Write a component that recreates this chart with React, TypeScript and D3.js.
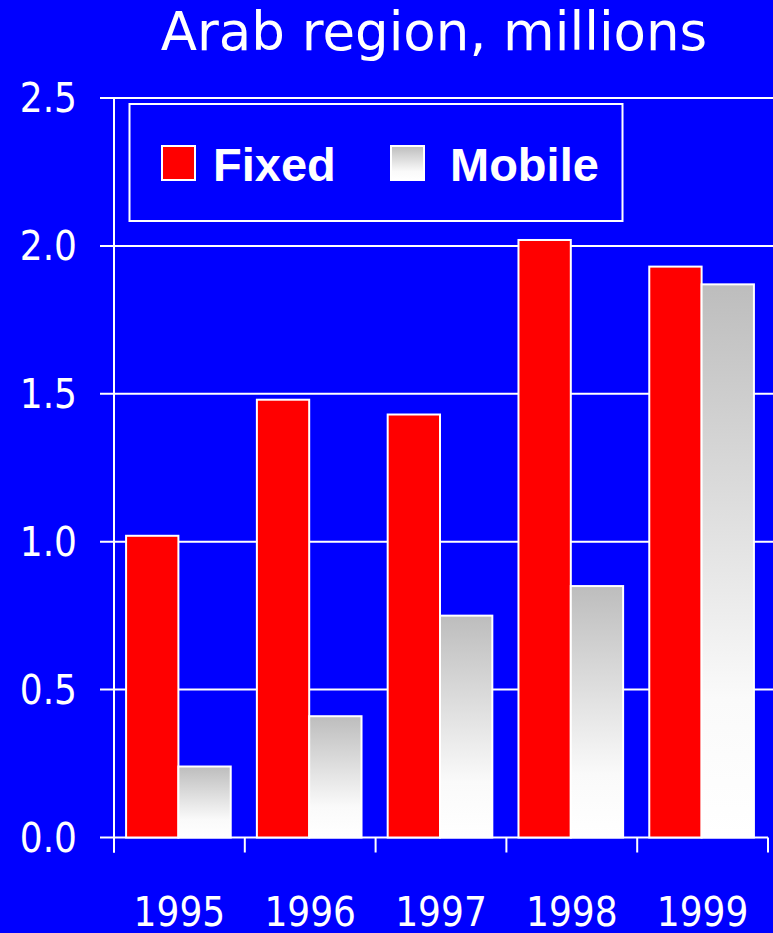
import React from "react";
import * as d3 from "d3";

const years = ["1995", "1996", "1997", "1998", "1999"];
const fixedLines = [1.02, 1.48, 1.43, 2.02, 1.93];
const mobileSubs = [0.24, 0.41, 0.75, 0.85, 1.87];
const yTicks = [0, 0.5, 1.0, 1.5, 2.0, 2.5];
const seriesKeys = ["Fixed", "Mobile"];

const W = 773;
const H = 933;
const left = 114;
const right = 768;
const top = 98;
const bottom = 837.5;

const BLUE = "#0000ff";
const RED = "#ff0000";
const numFont = "'DejaVu Sans Condensed', 'DejaVu Sans', sans-serif";
const titleFont = "'DejaVu Sans', Verdana, sans-serif";
const legendFont = "'Liberation Sans', Arial, sans-serif";

export default function App() {
  const x = d3.scaleBand<string>().domain(years).range([left, right]).padding(0);
  const xSub = d3
    .scaleBand<string>()
    .domain(seriesKeys)
    .range([0, x.bandwidth()])
    .paddingInner(0)
    .paddingOuter(0.25);
  const y = d3.scaleLinear().domain([0, 2.5]).range([bottom, top]);

  const rows = years.map((yr, i) => ({ yr, Fixed: fixedLines[i], Mobile: mobileSubs[i] }));
  const tickXs = [...years.map((yr) => x(yr) as number), right];

  return (
    <svg
      width={W}
      height={H}
      style={{ position: "absolute", left: 0, top: 0, display: "block" }}
    >
      <defs>
        <linearGradient id="mobileFill" x1="0" y1="0" x2="0" y2="1">
          <stop offset="0" stopColor="#bdbdbd" />
          <stop offset="0.75" stopColor="#fafafa" />
          <stop offset="1" stopColor="#ffffff" />
        </linearGradient>
      </defs>
      <rect x={0} y={0} width={W} height={H} fill={BLUE} />

      <text
        x={434}
        y={50}
        textAnchor="middle"
        fill="#fff"
        fontFamily={titleFont}
        fontSize={53}
      >
        Arab region, millions
      </text>

      {/* gridlines and y tick labels */}
      {yTicks.map((t) => (
        <g key={t}>
          <line
            x1={100}
            x2={t === 0 ? right : W}
            y1={y(t)}
            y2={y(t)}
            stroke="#fff"
            strokeWidth={2}
          />
          <text
            x={77}
            y={y(t)}
            dy="0.36em"
            textAnchor="end"
            fill="#fff"
            fontFamily={numFont}
            fontSize={40}
          >
            {t.toFixed(1)}
          </text>
        </g>
      ))}

      {/* y axis line */}
      <line x1={left} x2={left} y1={top} y2={bottom + 15} stroke="#fff" strokeWidth={2} />

      {/* x ticks */}
      {tickXs.map((tx, i) => (
        <line key={i} x1={tx} x2={tx} y1={bottom} y2={bottom + 15} stroke="#fff" strokeWidth={2} />
      ))}

      {/* legend */}
      <rect x={129.5} y={104} width={493} height={117} fill={BLUE} stroke="#fff" strokeWidth={2} />
      <rect x={162} y={146} width={33} height={34} fill={RED} stroke="#fff" strokeWidth={2} />
      <text x={213} y={181} fill="#fff" fontFamily={legendFont} fontWeight="bold" fontSize={47}>
        Fixed
      </text>
      <rect x={391} y={146} width={33} height={34} fill="url(#mobileFill)" stroke="#fff" strokeWidth={2} />
      <text x={450} y={181} fill="#fff" fontFamily={legendFont} fontWeight="bold" fontSize={47}>
        Mobile
      </text>

      {/* bars */}
      {rows.map((r) => (
        <g key={r.yr} transform={`translate(${x(r.yr)},0)`}>
          {seriesKeys.map((k) => {
            const v = r[k as "Fixed" | "Mobile"];
            return (
              <rect
                key={k}
                x={(xSub(k) as number) - 1}
                y={y(v)}
                width={xSub.bandwidth()}
                height={y(0) - y(v)}
                fill={k === "Fixed" ? RED : "url(#mobileFill)"}
                stroke="#fff"
                strokeWidth={2}
              />
            );
          })}
        </g>
      ))}

      {/* year labels */}
      {years.map((yr) => (
        <text
          key={yr}
          x={(x(yr) as number) + x.bandwidth() / 2}
          y={926}
          textAnchor="middle"
          fill="#fff"
          fontFamily={numFont}
          fontSize={40}
        >
          {yr}
        </text>
      ))}
    </svg>
  );
}
